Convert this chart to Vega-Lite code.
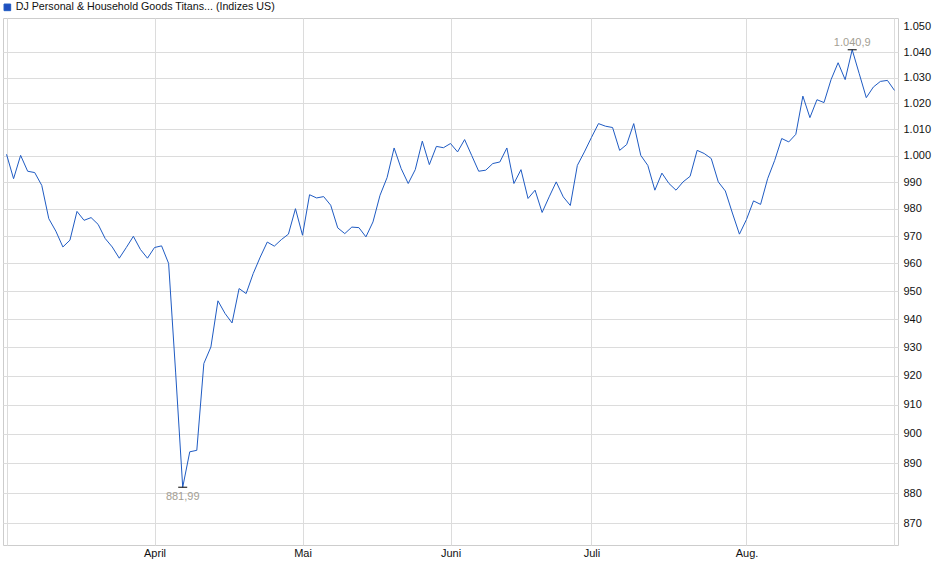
{
  "$schema": "https://vega.github.io/schema/vega-lite/v6.json",
  "width": 895,
  "height": 527,
  "autosize": {"type": "none"},
  "padding": {"left": 3, "top": 18, "right": 42, "bottom": 34},
  "background": "white",
  "config": {
    "view": {"stroke": "#cdcdcd", "strokeWidth": 1},
    "font": "Liberation Sans",
    "axis": {"labelFont": "Liberation Sans", "labelFontSize": 11, "labelColor": "#111111", "gridColor": "#dcdcdc", "gridWidth": 1, "domain": false, "ticks": false}
  },
  "datasets": {
    "series": [
      {"date": "2025-03-03", "value": 1000.5}, {"date": "2025-03-04", "value": 991.3}, {"date": "2025-03-05", "value": 1000.1}, {"date": "2025-03-06", "value": 994.1}, {"date": "2025-03-07", "value": 993.6},
      {"date": "2025-03-10", "value": 988.8}, {"date": "2025-03-11", "value": 976.4}, {"date": "2025-03-12", "value": 971.8}, {"date": "2025-03-13", "value": 966.0}, {"date": "2025-03-14", "value": 968.5},
      {"date": "2025-03-17", "value": 979.1}, {"date": "2025-03-18", "value": 975.8}, {"date": "2025-03-19", "value": 976.8}, {"date": "2025-03-20", "value": 974.3}, {"date": "2025-03-21", "value": 969.1},
      {"date": "2025-03-24", "value": 966.0}, {"date": "2025-03-25", "value": 961.9}, {"date": "2025-03-26", "value": 965.8}, {"date": "2025-03-27", "value": 969.9}, {"date": "2025-03-28", "value": 965.1},
      {"date": "2025-03-31", "value": 961.9}, {"date": "2025-04-01", "value": 965.8}, {"date": "2025-04-02", "value": 966.4}, {"date": "2025-04-03", "value": 960.0}, {"date": "2025-04-04", "value": 921.0},
      {"date": "2025-04-07", "value": 881.99}, {"date": "2025-04-08", "value": 893.9}, {"date": "2025-04-09", "value": 894.4}, {"date": "2025-04-10", "value": 924.3}, {"date": "2025-04-11", "value": 930.1},
      {"date": "2025-04-14", "value": 946.5}, {"date": "2025-04-15", "value": 942.0}, {"date": "2025-04-16", "value": 938.6}, {"date": "2025-04-17", "value": 950.9}, {"date": "2025-04-21", "value": 949.1},
      {"date": "2025-04-22", "value": 956.3}, {"date": "2025-04-23", "value": 962.3}, {"date": "2025-04-24", "value": 967.8}, {"date": "2025-04-25", "value": 966.3}, {"date": "2025-04-28", "value": 968.7},
      {"date": "2025-04-29", "value": 970.7}, {"date": "2025-04-30", "value": 980.1}, {"date": "2025-05-01", "value": 970.3}, {"date": "2025-05-02", "value": 985.3}, {"date": "2025-05-05", "value": 984.1},
      {"date": "2025-05-06", "value": 984.6}, {"date": "2025-05-07", "value": 981.4}, {"date": "2025-05-08", "value": 973.0}, {"date": "2025-05-09", "value": 970.9}, {"date": "2025-05-12", "value": 973.3},
      {"date": "2025-05-13", "value": 973.1}, {"date": "2025-05-14", "value": 969.7}, {"date": "2025-05-15", "value": 975.2}, {"date": "2025-05-16", "value": 985.1}, {"date": "2025-05-19", "value": 991.7},
      {"date": "2025-05-20", "value": 1002.9}, {"date": "2025-05-21", "value": 995.1}, {"date": "2025-05-22", "value": 989.5}, {"date": "2025-05-23", "value": 994.7}, {"date": "2025-05-27", "value": 1005.5},
      {"date": "2025-05-28", "value": 996.6}, {"date": "2025-05-29", "value": 1003.5}, {"date": "2025-05-30", "value": 1003.0}, {"date": "2025-06-02", "value": 1004.6}, {"date": "2025-06-03", "value": 1001.4},
      {"date": "2025-06-04", "value": 1006.1}, {"date": "2025-06-05", "value": 1000.1}, {"date": "2025-06-06", "value": 994.1}, {"date": "2025-06-09", "value": 994.5}, {"date": "2025-06-10", "value": 997.0},
      {"date": "2025-06-11", "value": 997.6}, {"date": "2025-06-12", "value": 1002.9}, {"date": "2025-06-13", "value": 989.5}, {"date": "2025-06-16", "value": 994.7}, {"date": "2025-06-17", "value": 983.9},
      {"date": "2025-06-18", "value": 987.0}, {"date": "2025-06-20", "value": 978.7}, {"date": "2025-06-23", "value": 984.5}, {"date": "2025-06-24", "value": 990.1}, {"date": "2025-06-25", "value": 984.5},
      {"date": "2025-06-26", "value": 981.3}, {"date": "2025-06-27", "value": 996.3}, {"date": "2025-06-30", "value": 1001.4}, {"date": "2025-07-01", "value": 1006.9}, {"date": "2025-07-02", "value": 1012.2},
      {"date": "2025-07-03", "value": 1011.2}, {"date": "2025-07-07", "value": 1010.7}, {"date": "2025-07-08", "value": 1002.0}, {"date": "2025-07-09", "value": 1004.2}, {"date": "2025-07-10", "value": 1012.2},
      {"date": "2025-07-11", "value": 1000.1}, {"date": "2025-07-14", "value": 996.3}, {"date": "2025-07-15", "value": 987.0}, {"date": "2025-07-16", "value": 993.4}, {"date": "2025-07-17", "value": 989.5},
      {"date": "2025-07-18", "value": 987.0}, {"date": "2025-07-21", "value": 990.1}, {"date": "2025-07-22", "value": 992.2}, {"date": "2025-07-23", "value": 1002.0}, {"date": "2025-07-24", "value": 1000.8},
      {"date": "2025-07-25", "value": 998.9}, {"date": "2025-07-28", "value": 990.1}, {"date": "2025-07-29", "value": 986.7}, {"date": "2025-07-30", "value": 978.5}, {"date": "2025-07-31", "value": 970.7},
      {"date": "2025-08-01", "value": 976.1}, {"date": "2025-08-04", "value": 983.0}, {"date": "2025-08-05", "value": 981.7}, {"date": "2025-08-06", "value": 991.3}, {"date": "2025-08-07", "value": 998.2},
      {"date": "2025-08-08", "value": 1006.5}, {"date": "2025-08-11", "value": 1005.2}, {"date": "2025-08-12", "value": 1008.1}, {"date": "2025-08-13", "value": 1022.8}, {"date": "2025-08-14", "value": 1014.5},
      {"date": "2025-08-15", "value": 1021.4}, {"date": "2025-08-18", "value": 1020.3}, {"date": "2025-08-19", "value": 1029.2}, {"date": "2025-08-20", "value": 1035.8}, {"date": "2025-08-21", "value": 1029.2},
      {"date": "2025-08-22", "value": 1040.9}, {"date": "2025-08-25", "value": 1031.5}, {"date": "2025-08-26", "value": 1022.2}, {"date": "2025-08-27", "value": 1026.3}, {"date": "2025-08-28", "value": 1028.5},
      {"date": "2025-08-29", "value": 1028.9}, {"date": "2025-09-02", "value": 1025.0}
    ],
    "extremes": [
      {"date": "2025-08-22", "value": 1040.9, "label": "1.040,9", "pos": "max"},
      {"date": "2025-04-07", "value": 881.99, "label": "881,99", "pos": "min"}
    ]
  },
  "data": {"name": "series"},
  "layer": [
    {
      "mark": {"type": "line", "strokeWidth": 1, "interpolate": "linear"},
      "encoding": {
        "x": {
          "field": "date", "type": "ordinal", "title": null,
          "scale": {"type": "point", "padding": 0.5},
          "axis": {
            "values": ["2025-03-03", "2025-04-01", "2025-05-01", "2025-06-02", "2025-07-01", "2025-08-01", "2025-09-02"],
            "labelExpr": "{'2025-04-01':'April','2025-05-01':'Mai','2025-06-02':'Juni','2025-07-01':'Juli','2025-08-01':'Aug.'}[datum.value] || ''",
            "labelAngle": 0, "labelPadding": 2, "grid": true
          }
        },
        "y": {
          "field": "value", "type": "quantitative", "title": null,
          "scale": {"type": "log", "domain": [862.9, 1053.5], "nice": false, "zero": false},
          "axis": {
            "orient": "right",
            "values": [870, 880, 890, 900, 910, 920, 930, 940, 950, 960, 970, 980, 990, 1000, 1010, 1020, 1030, 1040, 1050],
            "labelExpr": "replace(format(datum.value, ','), ',', '.')",
            "labelPadding": 5, "labelAlign": "left",
            "gridOpacity": {"condition": {"test": "datum.value >= 1050", "value": 0}, "value": 1}
          }
        },
        "color": {
          "datum": "DJ Personal & Household Goods Titans... (Indizes US)",
          "scale": {"range": ["#1f5bc3"]},
          "legend": {
            "orient": "none", "legendX": -1, "legendY": -16, "title": null, "padding": 0,
            "labelFont": "Liberation Sans", "labelFontSize": 10.7, "labelColor": "#111111", "labelLimit": 600, "labelOffset": 3,
            "symbolType": "square", "symbolSize": 44, "symbolFillColor": "#1f4fbf", "symbolStrokeColor": "#0d2b6b", "symbolStrokeWidth": 1,
            "encode": {"symbols": {"update": {"fill": {"value": "#1f4fbf"}, "stroke": {"value": "#0d2b6b"}, "strokeWidth": {"value": 1}, "shape": {"value": "square"}, "size": {"value": 44}, "opacity": {"value": 1}}}}
          }
        }
      }
    },
    {
      "data": {"name": "extremes"},
      "mark": {"type": "tick", "orient": "horizontal", "size": 9, "thickness": 1, "color": "#000000", "opacity": 1},
      "encoding": {
        "x": {"field": "date", "type": "ordinal"},
        "y": {"field": "value", "type": "quantitative"}
      }
    },
    {
      "data": {"name": "extremes"},
      "transform": [{"filter": "datum.pos === 'max'"}],
      "mark": {"type": "text", "baseline": "bottom", "dy": -2, "fontSize": 11, "font": "Liberation Sans", "color": "#a39e93"},
      "encoding": {
        "x": {"field": "date", "type": "ordinal"},
        "y": {"field": "value", "type": "quantitative"},
        "text": {"field": "label"}
      }
    },
    {
      "data": {"name": "extremes"},
      "transform": [{"filter": "datum.pos === 'min'"}],
      "mark": {"type": "text", "baseline": "top", "dy": 4, "fontSize": 11, "font": "Liberation Sans", "color": "#a39e93"},
      "encoding": {
        "x": {"field": "date", "type": "ordinal"},
        "y": {"field": "value", "type": "quantitative"},
        "text": {"field": "label"}
      }
    }
  ]
}
